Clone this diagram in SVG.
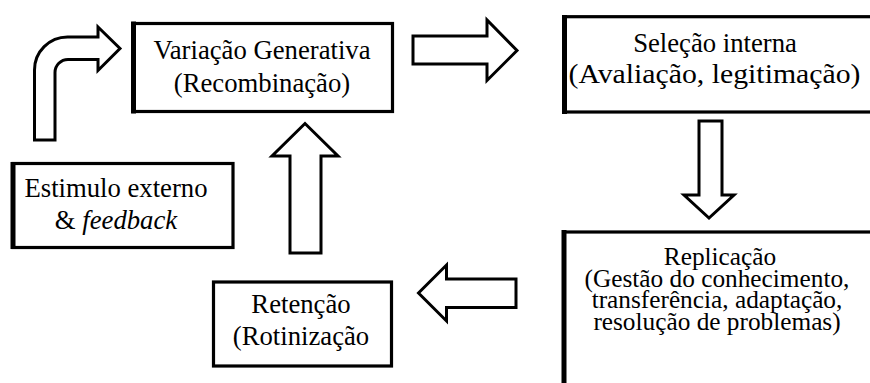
<svg xmlns="http://www.w3.org/2000/svg" width="870" height="383" viewBox="0 0 870 383">
<style>
.box{fill:#fff;stroke:#000;stroke-width:3.2}
.edge{stroke:#000;stroke-width:5;fill:none}
.arr{fill:#fff;stroke:#000;stroke-width:3;stroke-linejoin:miter}
text{font-family:"Liberation Serif","Times New Roman",serif;font-size:26.7px;fill:#000;text-anchor:middle}
.rep{font-size:25.3px}
</style>
<rect width="870" height="383" fill="#fff"/>
<g id="connectors">
<path class="arr" d="M34.5,140 V70 A33,33 0 0 1 67.5,37 H98 V27 L120,48.5 L98,70.5 V59.5 H68 A13,13 0 0 0 55,72.5 V140 Z"/>
<path class="arr" d="M413,36 H487 V20 L517,50.5 L487,80.5 V64 H413 Z"/>
<path class="arr" d="M699,121 H722 V195 H734 L709,218 L684,195 H699 Z"/>
<path class="arr" d="M516,279 V307.5 H446.5 V321 L418.5,293 L446.5,265 V279 Z"/>
<path class="arr" d="M290,253 V156 H272 L305,123.5 L338,156 H321 V253 Z"/>
</g>
<g id="variacao">
<rect class="box" x="133.5" y="23.5" width="259" height="88"/>
<line class="edge" x1="133.5" y1="21.5" x2="133.5" y2="113.5" stroke-width="4.5"/>
<text x="262" y="59">Variação Generativa</text>
<text x="262" y="92">(Recombinação)</text>
</g>
<g id="selecao">
<rect class="box" x="564.5" y="16.7" width="310" height="95.3"/>
<line class="edge" x1="564.5" y1="15" x2="564.5" y2="114"/>
<text x="715" y="51.5">Seleção interna</text>
<text x="714.5" y="83" textLength="292" lengthAdjust="spacingAndGlyphs">(Avaliação, legitimação)</text>
</g>
<g id="replicacao">
<rect class="box" x="564" y="232" width="320" height="160"/>
<line class="edge" x1="564" y1="230" x2="564" y2="385"/>
<text class="rep" x="720" y="265">Replicação</text>
<text class="rep" x="717" y="286.7">(Gestão do conhecimento,</text>
<text class="rep" x="717" y="308.3">transferência, adaptação,</text>
<text class="rep" x="717" y="330">resolução de problemas)</text>
</g>
<g id="estimulo">
<rect class="box" x="13" y="163.5" width="220" height="84"/>
<line class="edge" x1="13" y1="162" x2="13" y2="249" stroke-width="4.5"/>
<text x="116" y="196.7">Estimulo externo</text>
<text x="116" y="229"><tspan>&amp; </tspan><tspan font-style="italic">feedback</tspan></text>
</g>
<g id="retencao">
<rect class="box" x="213.5" y="282" width="178" height="84"/>
<text x="301" y="313">Retenção</text>
<text x="301" y="345">(Rotinização</text>
</g>
</svg>
